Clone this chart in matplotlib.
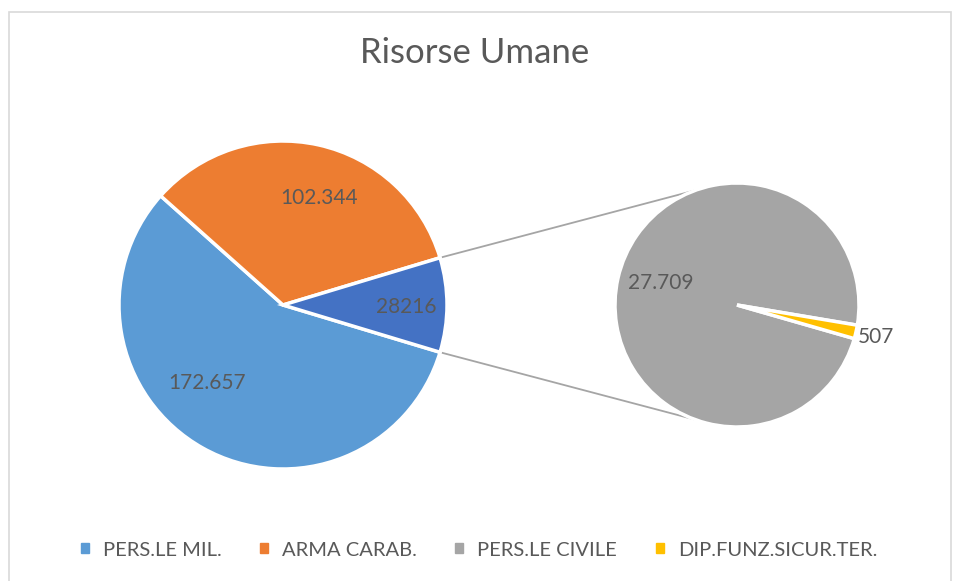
import numpy as np
import matplotlib
matplotlib.use("Agg")
from matplotlib import pyplot as plt
from matplotlib.patches import Patch, Rectangle

plt.rcParams['font.family'] = ['Lato', 'DejaVu Sans']

# data
main_labels = ["PERS.LE MIL.", "ARMA CARAB.", "altro"]
main_values = [172657, 102344, 28216]
main_text = ["172.657", "102.344", "28216"]
sub_labels = ["PERS.LE CIVILE", "DIP.FUNZ.SICUR.TER."]
sub_values = [27709, 507]
sub_text = ["27.709", "507"]
legend_labels = ["PERS.LE MIL.", "ARMA CARAB.", "PERS.LE CIVILE", "DIP.FUNZ.SICUR.TER."]

main_colors = ['#5B9BD5', '#ED7D31', '#4472C4']
sub_colors = ['#A5A5A5', '#FFC000']
txt = '#595959'

W, H = 956, 581
fig = plt.figure(figsize=(W / 100, H / 100), dpi=100)
ax = fig.add_axes([0, 0, 1, 1])

# main pie, the "other" slice centred on the right
c1, r1 = (283, H - 305), 164
start1 = -main_values[2] / sum(main_values) * 180
w1, _ = ax.pie(main_values, colors=main_colors, center=c1, radius=r1,
               startangle=start1, counterclock=False,
               wedgeprops=dict(edgecolor='white', linewidth=2.5))

# second pie
c2, r2 = (737, H - 305), 122
w2, _ = ax.pie(sub_values, colors=sub_colors, center=c2, radius=r2,
               startangle=-16, counterclock=False,
               wedgeprops=dict(edgecolor='white', linewidth=2.5))

# data labels: (angle offset in deg, fraction of radius)
lab1 = [(-15, 0.66), (-6, 0.69), (-1, 0.75)]
for w, s, (da, f) in zip(w1, main_text, lab1):
    a = np.deg2rad((w.theta1 + w.theta2) / 2 + da)
    ax.text(c1[0] + f * r1 * np.cos(a), c1[1] + f * r1 * np.sin(a), s,
            ha='center', va='center', fontsize=15, color=txt)
lab2 = [(-3, 0.65), (0, 1.17)]
for w, s, (da, f) in zip(w2, sub_text, lab2):
    a = np.deg2rad((w.theta1 + w.theta2) / 2 + da)
    ax.text(c2[0] + f * r2 * np.cos(a), c2[1] + f * r2 * np.sin(a), s,
            ha='center', va='center', fontsize=15, color=txt)

# connector lines
other = w1[2]
for t1, t2 in [(other.theta2, 110), (other.theta1, -110)]:
    a1, a2 = np.deg2rad(t1), np.deg2rad(t2)
    ax.plot([c1[0] + r1 * np.cos(a1), c2[0] + r2 * np.cos(a2)],
            [c1[1] + r1 * np.sin(a1), c2[1] + r2 * np.sin(a2)],
            color='#A5A5A5', lw=1.3, zorder=0)

ax.add_patch(Rectangle((9, -20), 942, H - 12 + 20, fill=False,
                       edgecolor='#D9D9D9', lw=1.2))

ax.set_xlim(0, W)
ax.set_ylim(0, H)
ax.set_aspect('equal')
ax.axis('off')

ax.text(475, H - 53, "Risorse Umane", ha='center', va='center',
        fontsize=25, color=txt)

handles = [Patch(color=c) for c in main_colors[:2] + sub_colors]
fig.legend(handles, legend_labels, loc='center', bbox_to_anchor=(0.501, (H - 550) / H),
           ncol=4, frameon=False, fontsize=14.5, labelcolor=txt,
           handlelength=0.4, handleheight=0.4, handletextpad=0.7, columnspacing=1.9)

fig.savefig('out.png', dpi=100)
